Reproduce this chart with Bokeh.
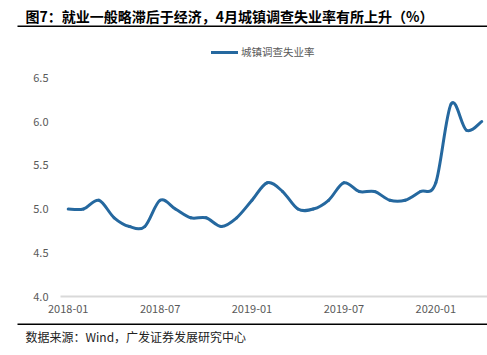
from bokeh.plotting import figure
from bokeh.models import (ColumnDataSource, Range1d, FixedTicker, Legend, LegendItem)
from bokeh.core.properties import value
from bokeh.embed import file_html
from bokeh.resources import INLINE
import numpy as np

# ---- data ----
months = ["2018-01", "2018-02", "2018-03", "2018-04", "2018-05", "2018-06",
          "2018-07", "2018-08", "2018-09", "2018-10", "2018-11", "2018-12",
          "2019-01", "2019-02", "2019-03", "2019-04", "2019-05", "2019-06",
          "2019-07", "2019-08", "2019-09", "2019-10", "2019-11", "2019-12",
          "2020-01", "2020-02", "2020-03", "2020-04"]
rate = [5.0, 5.0, 5.1, 4.9, 4.8, 4.8,
        5.1, 5.0, 4.9, 4.9, 4.8, 4.9,
        5.1, 5.3, 5.2, 5.0, 5.0, 5.1,
        5.3, 5.2, 5.2, 5.1, 5.1, 5.2,
        5.3, 6.2, 5.9, 6.0]
tick_labels = ["2018-01", "2018-07", "2019-01", "2019-07", "2020-01"]
y_ticks = [4.0, 4.5, 5.0, 5.5, 6.0, 6.5]
series_name = "城镇调查失业率"
title_text = "图7：就业一般略滞后于经济，4月城镇调查失业率有所上升（%）"
source_text = "数据来源：Wind，广发证券发展研究中心"

FONT = "Noto Sans CJK SC"
W, H = 487, 355
LINE_COLOR = "#25689f"
LABEL_COLOR = "#595959"

# pixel geometry of the plotting area (canvas pixels)
X0_PX, DX_PX = 67.7, 15.317      # first month position, px per month
Y4_PX, DY_PX = 296.0, 87.48      # position of 4.0, px per unit

# ---- smooth line as bezier segments through the data points ----
xi = np.arange(len(rate), dtype=float)
yv = np.array(rate, dtype=float)
n = len(yv)
x0, y0, x1, y1, cx0, cy0, cx1, cy1 = [], [], [], [], [], [], [], []
for i in range(n - 1):
    pm = max(i - 1, 0)
    pp = min(i + 2, n - 1)
    x0.append(xi[i]); y0.append(yv[i])
    x1.append(xi[i + 1]); y1.append(yv[i + 1])
    cx0.append(xi[i] + (xi[i + 1] - xi[pm]) / 6.0)
    cy0.append(yv[i] + (yv[i + 1] - yv[pm]) / 6.0)
    cx1.append(xi[i + 1] - (xi[pp] - xi[i]) / 6.0)
    cy1.append(yv[i + 1] - (yv[pp] - yv[i]) / 6.0)
src = ColumnDataSource(dict(x0=x0, y0=y0, x1=x1, y1=y1, cx0=cx0, cy0=cy0, cx1=cx1, cy1=cy1))

xr = Range1d(-X0_PX / DX_PX, (W - X0_PX) / DX_PX)
yr = Range1d(4.0 - (H - Y4_PX) / DY_PX, 4.0 + Y4_PX / DY_PX)
x_left = -0.5  # left edge of the plot area (x = 60 px)

p = figure(width=W, height=H, output_backend="svg", toolbar_location=None,
           x_range=xr, y_range=yr,
           min_border_left=0, min_border_right=0, min_border_top=0,
           min_border_bottom=0)
p.outline_line_color = None
p.grid.visible = False
p.background_fill_color = "white"
p.border_fill_color = "white"
p.extra_x_ranges = {"px": Range1d(0, W)}
p.extra_y_ranges = {"px": Range1d(H, 0)}

r = p.bezier(x0="x0", y0="y0", x1="x1", y1="y1", cx0="cx0", cy0="cy0",
             cx1="cx1", cy1="cy1", source=src, line_color=LINE_COLOR,
             line_width=3, line_cap="round", line_join="round")

xa = p.xaxis[0]
xa.fixed_location = 4.0
xa.bounds = (x_left, xr.end)
xa.ticker = FixedTicker(ticks=[months.index(t) for t in tick_labels])
xa.major_label_overrides = {months.index(t): t for t in tick_labels}
xa.axis_line_color = "#d9d9d9"
xa.axis_line_width = 2
xa.major_tick_line_color = None
xa.minor_tick_line_color = None
xa.major_tick_in = 0
xa.major_tick_out = 0
xa.major_label_text_font = FONT
xa.major_label_text_font_size = "11px"
xa.major_label_text_color = LABEL_COLOR
xa.major_label_standoff = 8

ya = p.yaxis[0]
ya.fixed_location = x_left
ya.ticker = FixedTicker(ticks=y_ticks)
ya.major_label_overrides = {t: f"{t:.1f}" for t in y_ticks}
ya.axis_line_color = None
ya.major_tick_line_color = None
ya.minor_tick_line_color = None
ya.major_tick_in = 0
ya.major_tick_out = 0
ya.major_label_text_font = FONT
ya.major_label_text_font_size = "11px"
ya.major_label_text_color = LABEL_COLOR
ya.major_label_standoff = 12

legend = Legend(items=[LegendItem(label=series_name, renderers=[r])],
                location=(211, 296), orientation="horizontal",
                label_text_font=FONT, label_text_font_size="10.5px",
                label_text_color=LABEL_COLOR, glyph_width=27, glyph_height=14,
                label_height=14, label_standoff=3, padding=3, margin=0,
                border_line_color=None, background_fill_alpha=0)
p.add_layout(legend)

# ---- header / footer in canvas-pixel range ----
p.text(x=[25], y=[15.5], text=[title_text], text_font=value(FONT),
       text_font_size="14px", text_font_style="bold", text_color="#000000",
       text_baseline="middle", text_align="left",
       x_range_name="px", y_range_name="px")
p.segment(x0=[17, 17], y0=[25.7, 323.7], x1=[W, W], y1=[25.7, 323.7],
          line_color="#000000", line_width=1.5,
          x_range_name="px", y_range_name="px")
p.text(x=[25], y=[336], text=[source_text], text_font=value(FONT),
       text_font_size="12px", text_color="#222222",
       text_baseline="middle", text_align="left",
       x_range_name="px", y_range_name="px")

open("out.html", "w").write(file_html(p, INLINE))
